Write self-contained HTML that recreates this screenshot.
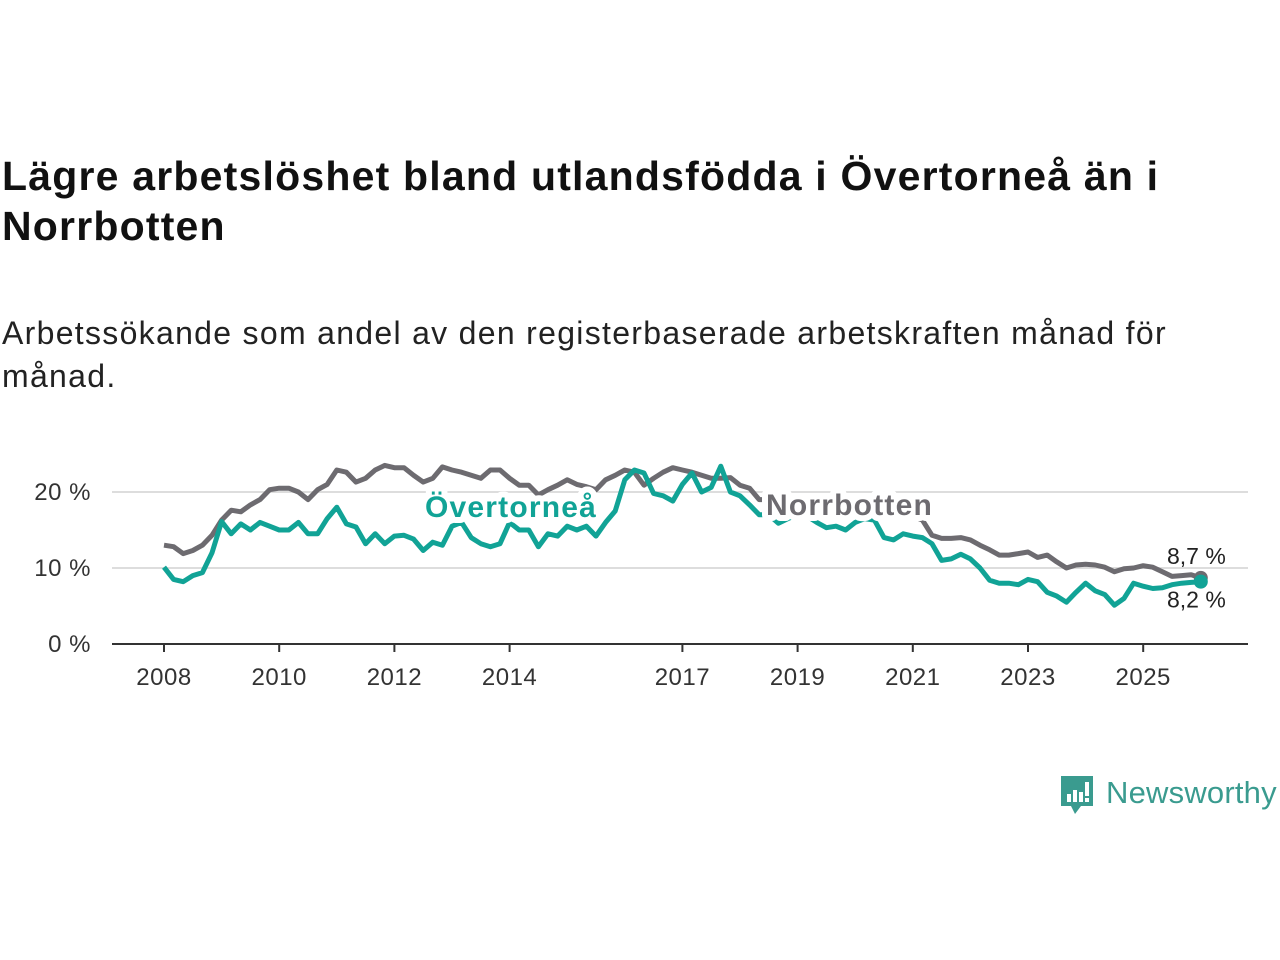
<!DOCTYPE html>
<html><head><meta charset="utf-8">
<style>
body{margin:0;width:1280px;height:960px;background:#fff;font-family:"Liberation Sans","DejaVu Sans",sans-serif;overflow:hidden;position:relative}
h1{position:absolute;left:2px;top:151px;margin:0;font-size:41px;line-height:50px;font-weight:bold;color:#111;width:1240px;letter-spacing:1.2px}
.sub{position:absolute;left:2px;top:312px;margin:0;font-size:32px;line-height:43px;color:#222;width:1200px;letter-spacing:1.3px}
svg{position:absolute;left:0;top:0}
</style></head><body>
<h1>Lägre arbetslöshet bland utlandsfödda i Övertorneå än i Norrbotten</h1>
<p class="sub">Arbetssökande som andel av den registerbaserade arbetskraften månad för månad.</p>
<svg id="chart" width="1280" height="960"></svg>
<div style="position:absolute;left:1059px;top:774px;height:44px;display:flex;align-items:center">
<svg width="36" height="44" style="position:static"><path d="M2 2h32v30H22l-6 8-4-8H2z" fill="#3a9b8f"/><rect x="8" y="20" width="4" height="8" fill="#fff"/><rect x="14" y="16" width="4" height="12" fill="#fff"/><rect x="20" y="18" width="4" height="10" fill="#fff"/><rect x="26" y="8" width="4" height="14" fill="#fff"/><rect x="26" y="24" width="4" height="4" fill="#fff"/></svg>
<span style="font-size:31px;color:#3a9b8f;margin-left:11px;margin-top:-6px;letter-spacing:0.2px">Newsworthy</span></div>
<script>
const startYear = 2008;
const monthStep = 2;
const norrbotten = [13.0,12.8,11.9,12.3,13.0,14.3,16.3,17.6,17.4,18.3,19.0,20.3,20.5,20.5,20.0,19.0,20.3,21.0,22.9,22.6,21.3,21.8,22.9,23.5,23.2,23.2,22.2,21.3,21.8,23.3,22.9,22.6,22.2,21.8,22.9,22.9,21.8,20.9,20.9,19.6,20.3,20.9,21.6,21.0,20.7,20.3,21.6,22.2,22.9,22.6,20.9,21.8,22.6,23.2,22.9,22.6,22.2,21.8,21.8,21.9,20.9,20.5,19.0,19.0,18.0,17.5,17.2,17.0,17.0,16.8,17.0,17.5,18.5,19.0,18.8,18.0,17.5,17.2,16.8,16.3,14.3,13.9,13.9,14.0,13.7,13.0,12.4,11.7,11.7,11.9,12.1,11.4,11.7,10.8,10.0,10.4,10.5,10.4,10.1,9.5,9.9,10.0,10.3,10.1,9.5,8.9,9.0,9.1,8.7];
const overtornea = [10.1,8.5,8.2,9.0,9.4,12.0,16.1,14.5,15.8,15.0,16.0,15.5,15.0,15.0,16.0,14.5,14.5,16.5,18.0,15.8,15.4,13.2,14.5,13.2,14.2,14.3,13.8,12.3,13.4,13.0,15.5,16.0,14.0,13.2,12.8,13.2,16.0,15.0,15.0,12.8,14.5,14.2,15.5,15.0,15.5,14.2,16.0,17.5,21.6,22.9,22.5,19.8,19.5,18.8,21.0,22.5,20.0,20.6,23.4,20.0,19.5,18.3,17.0,17.0,15.9,16.5,17.0,16.8,16.0,15.3,15.5,15.0,16.0,16.5,16.3,14.0,13.7,14.5,14.2,14.0,13.2,11.0,11.2,11.8,11.2,10.0,8.4,8.0,8.0,7.8,8.5,8.2,6.8,6.3,5.5,6.8,8.0,7.0,6.5,5.1,6.0,8.0,7.6,7.3,7.4,7.8,8.0,8.1,8.2];
const xTicks = [2008,2010,2012,2014,2017,2019,2021,2023,2025];
const yTicks = [0,10,20];
const endLabels = ["8,7 %","8,2 %"];

const NS="http://www.w3.org/2000/svg";
const svg=document.getElementById('chart');
const x=yr=>164+(yr-2008)*57.6;
const y=v=>644-v*7.6;
const t=i=>startYear+i*monthStep/12;
function mk(tag,attrs){const e=document.createElementNS(NS,tag);for(const k in attrs)e.setAttribute(k,attrs[k]);svg.appendChild(e);return e;}
yTicks.forEach(v=>{
  if(v>0){const g=mk('line',{x1:112,x2:1248,y1:y(v),y2:y(v),stroke:'#ddd','stroke-width':2});
  
  }
  const l=mk('text',{x:91,y:y(v)+8,'text-anchor':'end','font-size':24,fill:'#333','font-family':'Liberation Sans, sans-serif','letter-spacing':0.5});
  l.textContent=v+' %';
  
  
});
const ax=mk('line',{x1:112,x2:1248,y1:644,y2:644,stroke:'#333','stroke-width':2});


xTicks.forEach(yr=>{
  const tk=mk('line',{x1:x(yr),x2:x(yr),y1:644,y2:652,stroke:'#333','stroke-width':2});
  
  
  const l=mk('text',{x:x(yr),y:685,'text-anchor':'middle','font-size':24,fill:'#333','font-family':'Liberation Sans, sans-serif','letter-spacing':0.5});
  l.textContent=yr;
  
  
});
function line(data,color,name){
  const d=data.map((v,i)=>(i?'L':'M')+x(t(i)).toFixed(1)+' '+y(v).toFixed(1)).join('');
  const p=mk('path',{d:d,fill:'none',stroke:color,'stroke-width':5,'stroke-linejoin':'round'});
  
  
  const n=data.length-1;
  const c=mk('circle',{cx:x(t(n)),cy:y(data[n]),r:7,fill:color});
  
  
}
line(norrbotten,'#6d6b70','norrbotten-line');
line(overtornea,'#11a396','overtornea-line');
function lab(txt,xx,yy,color,name){
  const e=mk('text',{x:xx,y:yy,'font-size':30,'font-weight':'bold',fill:color,stroke:'#fff','stroke-width':12,'paint-order':'stroke','stroke-linejoin':'round','font-family':'Liberation Sans, sans-serif','letter-spacing':1.2});
  e.textContent=txt;
  
  
}
lab('Övertorneå',425,517,'#11a396','overtornea-label');
lab('Norrbotten',766,515,'#6d6b70','norrbotten-label');
const n=norrbotten.length-1;
const e1=mk('text',{x:1167,y:y(norrbotten[n])-14,'font-size':23,fill:'#222','font-family':'Liberation Sans, sans-serif'});
e1.textContent=endLabels[0];


const e2=mk('text',{x:1167,y:y(overtornea[n])+26,'font-size':23,fill:'#222','font-family':'Liberation Sans, sans-serif'});
e2.textContent=endLabels[1];


</script>
</body></html>
